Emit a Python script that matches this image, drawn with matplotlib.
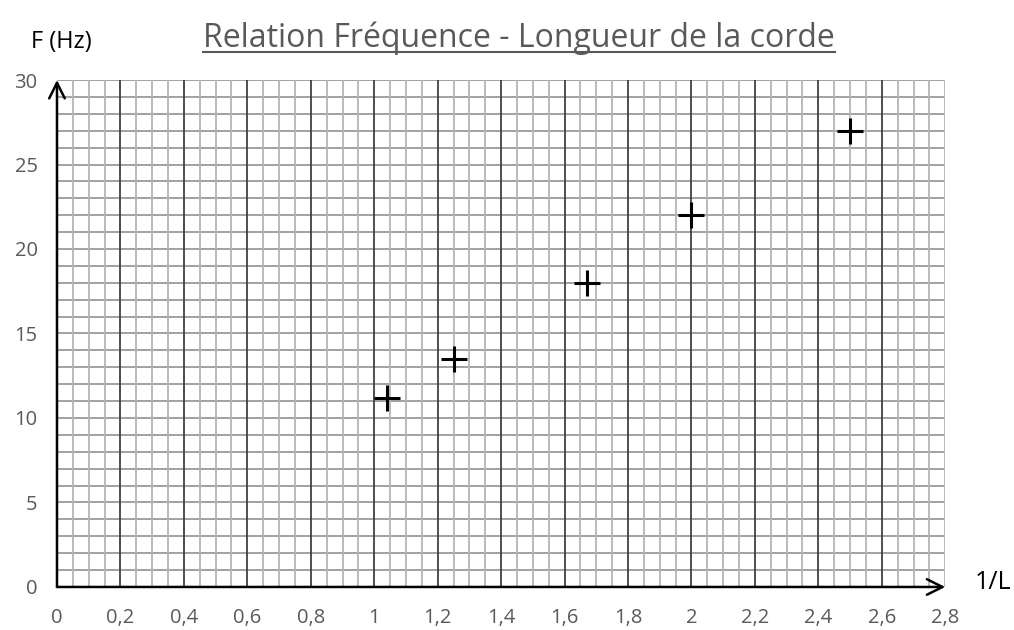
import numpy as np
import matplotlib
matplotlib.use('Agg')
import matplotlib.pyplot as plt
from matplotlib.lines import Line2D

# mesures : 1/L et frequence
inv_L = [1.04, 1.25, 1.67, 2.0, 2.5]
freq = [11.2, 13.5, 18.0, 22.0, 27.0]

x_ticks = [0, 0.2, 0.4, 0.6, 0.8, 1, 1.2, 1.4, 1.6, 1.8, 2, 2.2, 2.4, 2.6, 2.8]
x_labels = ['0', '0,2', '0,4', '0,6', '0,8', '1', '1,2', '1,4', '1,6', '1,8',
            '2', '2,2', '2,4', '2,6', '2,8']
y_ticks = [0, 5, 10, 15, 20, 25, 30]

plt.rcParams['font.family'] = ['Open Sans', 'DejaVu Sans']

fig = plt.figure(figsize=(10.14, 6.3), dpi=100)
ax = fig.add_axes([0.0562, 0.0683, 0.876, 0.8047])
ax.set_xlim(0, 2.8)
ax.set_ylim(0, 30)

# papier millimetre
for yv in range(1, 31):
    ax.axhline(yv, color='#9a9a9a', lw=1.3, zorder=1)
for i, xv in enumerate(np.arange(0.05, 2.801, 0.05)):
    if i % 4 == 3 and xv < 2.79:
        ax.axvline(xv, color='#404040', lw=1.3, zorder=2)
    else:
        ax.axvline(xv, color='#b4b4b4', lw=1.3, zorder=1)

for s in ['top', 'right', 'left', 'bottom']:
    ax.spines[s].set_visible(False)

# axes avec fleches
ax.annotate('', xy=(0, 30), xytext=(0, 0), annotation_clip=False,
            arrowprops=dict(arrowstyle='->', lw=1.8, color='black',
                            mutation_scale=28, shrinkA=0, shrinkB=0), zorder=5)
ax.annotate('', xy=(2.8, 0), xytext=(0, 0), annotation_clip=False,
            arrowprops=dict(arrowstyle='->', lw=1.8, color='black',
                            mutation_scale=28, shrinkA=0, shrinkB=0), zorder=5)

ax.plot(inv_L, freq, linestyle='none', marker='+', markersize=19,
        markeredgewidth=2.2, color='black', zorder=6)

ax.set_xticks(x_ticks)
ax.set_xticklabels(x_labels)
ax.set_yticks(y_ticks)
ax.tick_params(axis='both', length=0, labelsize=14.5, labelcolor='#595959')
ax.tick_params(axis='x', pad=15)
ax.tick_params(axis='y', pad=14)

fig.text(0.060, 0.934, 'F (Hz)', fontsize=17, color='black', ha='center', va='center')
fig.text(0.979, 0.076, '1/L', fontsize=18, color='black', ha='center', va='center')

title = fig.text(0.512, 0.940, 'Relation Fréquence - Longueur de la corde',
                 fontsize=23, color='#595959', ha='center', va='center')

# soulignement du titre
fig.canvas.draw()
bb = title.get_window_extent().transformed(fig.transFigure.inverted())
fig.add_artist(Line2D([bb.x0, bb.x1], [bb.y0 + 0.004, bb.y0 + 0.004],
                      transform=fig.transFigure, color='#595959', lw=1.5))

fig.savefig('out.png', dpi=100)
